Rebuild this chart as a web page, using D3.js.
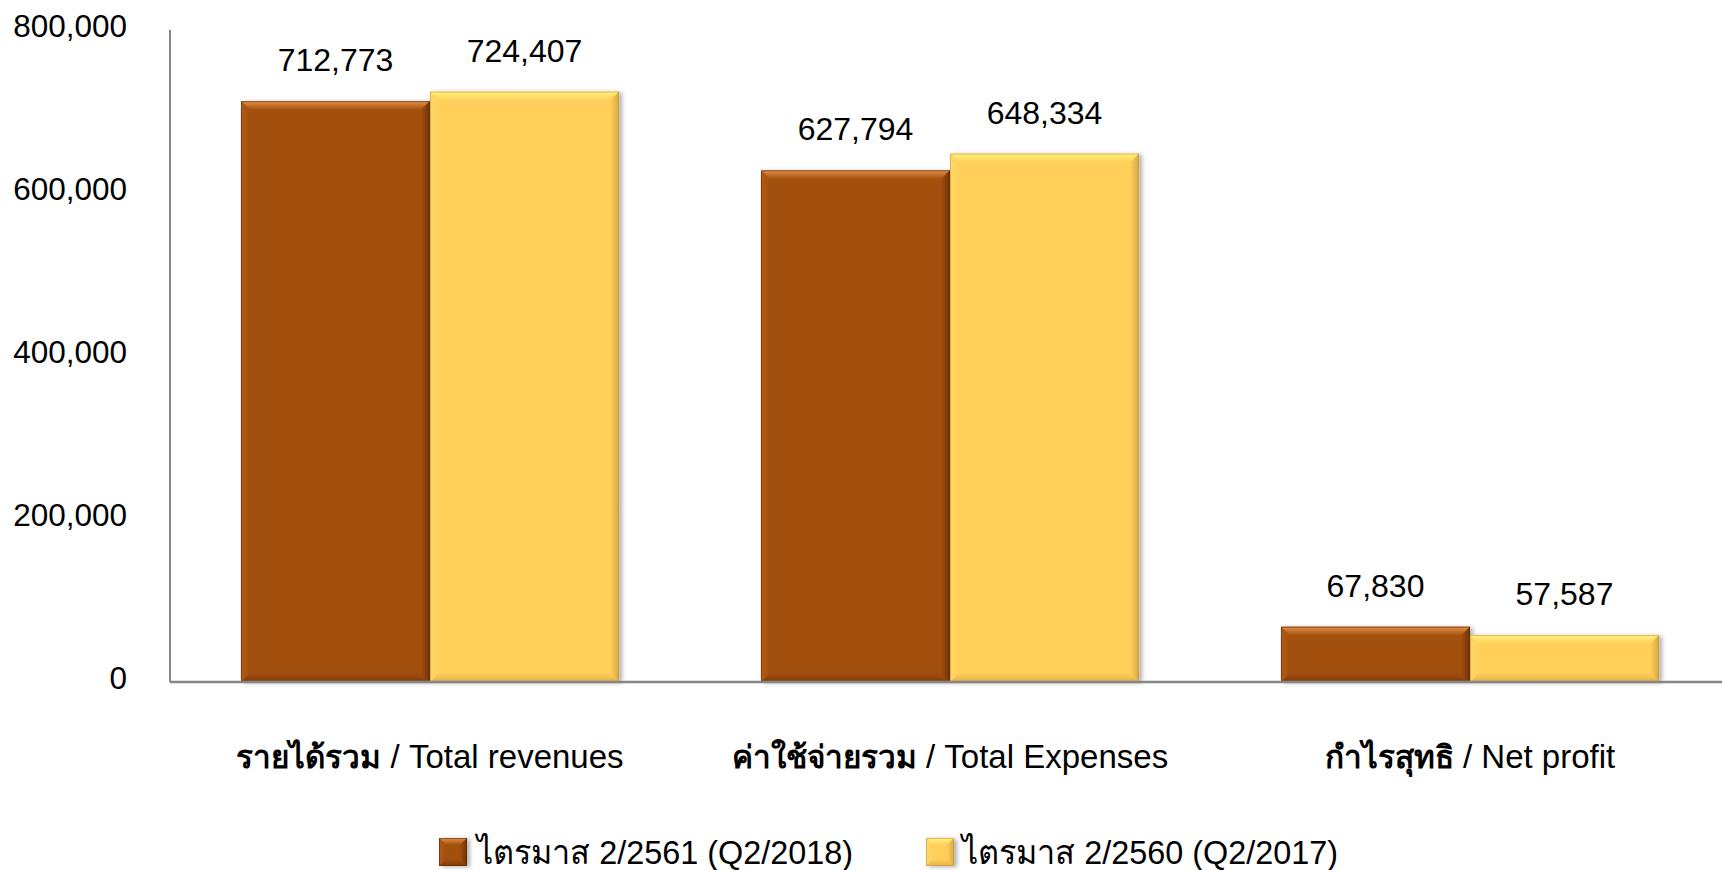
<!DOCTYPE html>
<html>
<head>
<meta charset="utf-8">
<script src="https://cdn.jsdelivr.net/npm/d3@7"></script>
<style>
  html, body { margin: 0; padding: 0; background: #ffffff; }
  svg { display: block; }
  text { font-family: "Liberation Sans", Arial, sans-serif; fill: #000; }
</style>
</head>
<body>
<svg id="chart" width="1722" height="870"></svg>
<script>
// ---- data ----
const categoriesThai = ["รายได้รวม", "ค่าใช้จ่ายรวม", "กำไรสุทธิ"];
const categoriesEng = ["Total revenues", "Total Expenses", "Net profit"];
const seriesNames = ["ไตรมาส 2/2561 (Q2/2018)", "ไตรมาส 2/2560 (Q2/2017)"];
const q2_2018 = [712773, 627794, 67830];
const q2_2017 = [724407, 648334, 57587];
const yTicks = [0, 200000, 400000, 600000, 800000];

const seriesValues = [q2_2018, q2_2017];
const palettes = [
  { base: "#A34F0B", top: "#E3904A", left: "#B25C16", right: "#6E3305", bottom: "#7F3C07", edge: "#5E2C06" },
  { base: "#FFCF5A", top: "#FFF27E", left: "#FFD96A", right: "#D9A843", bottom: "#E2B14A", edge: "#C9993C" }
];

const svg = d3.select("#chart");
const plotLeft = 170, plotRight = 1730, plotTop = 30, plotBottom = 682;

const x0 = d3.scaleBand().domain(d3.range(categoriesThai.length)).range([plotLeft, plotRight]).paddingInner(0.273).paddingOuter(0.1365);
const x1 = d3.scaleBand().domain([0, 1]).range([0, x0.bandwidth()]).padding(0);
const y = d3.scaleLinear().domain([0, 800000]).range([plotBottom, plotTop]);

// defs
const defs = svg.append("defs");
const f = defs.append("filter").attr("id", "shadow").attr("x", "-10%").attr("y", "-10%").attr("width", "130%").attr("height", "130%");
f.append("feDropShadow").attr("dx", 3).attr("dy", 1).attr("stdDeviation", 2).attr("flood-color", "#000").attr("flood-opacity", 0.3);

palettes.forEach((p, i) => {
  const gT = defs.append("linearGradient").attr("id", "gtop" + i).attr("x1", 0).attr("y1", 0).attr("x2", 0).attr("y2", 1);
  gT.append("stop").attr("offset", "0%").attr("stop-color", p.top);
  gT.append("stop").attr("offset", "100%").attr("stop-color", p.base);
  const gB = defs.append("linearGradient").attr("id", "gbot" + i).attr("x1", 0).attr("y1", 0).attr("x2", 0).attr("y2", 1);
  gB.append("stop").attr("offset", "0%").attr("stop-color", p.base);
  gB.append("stop").attr("offset", "100%").attr("stop-color", p.bottom);
  const gR = defs.append("linearGradient").attr("id", "gright" + i).attr("x1", 0).attr("y1", 0).attr("x2", 1).attr("y2", 0);
  gR.append("stop").attr("offset", "0%").attr("stop-color", p.base);
  gR.append("stop").attr("offset", "100%").attr("stop-color", p.right);
  const gL = defs.append("linearGradient").attr("id", "gleft" + i).attr("x1", 0).attr("y1", 0).attr("x2", 1).attr("y2", 0);
  gL.append("stop").attr("offset", "0%").attr("stop-color", p.left);
  gL.append("stop").attr("offset", "100%").attr("stop-color", p.base);
});

function bevelBar(g, bx, by, bw, bh, si, b) {
  const p = palettes[si];
  const grp = g.append("g").attr("filter", "url(#shadow)");
  grp.append("rect").attr("x", bx).attr("y", by).attr("width", bw).attr("height", bh).attr("fill", p.base);
  const bb = Math.min(b, bh / 2);
  const pts = (arr) => arr.map(a => a.join(",")).join(" ");
  grp.append("polygon").attr("points", pts([[bx, by], [bx + bw, by], [bx + bw - bb, by + bb], [bx + bb, by + bb]])).attr("fill", `url(#gtop${si})`);
  grp.append("polygon").attr("points", pts([[bx, by + bh], [bx + bw, by + bh], [bx + bw - bb, by + bh - bb], [bx + bb, by + bh - bb]])).attr("fill", `url(#gbot${si})`);
  grp.append("polygon").attr("points", pts([[bx, by], [bx + bb, by + bb], [bx + bb, by + bh - bb], [bx, by + bh]])).attr("fill", `url(#gleft${si})`);
  grp.append("polygon").attr("points", pts([[bx + bw, by], [bx + bw - bb, by + bb], [bx + bw - bb, by + bh - bb], [bx + bw, by + bh]])).attr("fill", `url(#gright${si})`);
  grp.append("rect").attr("x", bx + 0.5).attr("y", by + 0.5).attr("width", bw - 1).attr("height", bh - 1)
    .attr("fill", "none").attr("stroke", p.edge).attr("stroke-width", 1).attr("stroke-opacity", 0.6);
}

// y tick labels
svg.append("g").selectAll("text").data(yTicks).join("text")
  .attr("x", 127).attr("y", d => y(d) + 7)
  .attr("text-anchor", "end").attr("font-size", 31.5)
  .text(d => d3.format(",")(d));

// bars
const barsG = svg.append("g");
categoriesThai.forEach((c, ci) => {
  seriesValues.forEach((vals, si) => {
    const bx = x0(ci) + x1(si);
    const by = y(vals[ci]);
    bevelBar(barsG, bx, by, x1.bandwidth(), y(0) - by, si, 9);
  });
});

// axes lines
svg.append("line").attr("x1", plotLeft).attr("x2", plotLeft).attr("y1", plotTop).attr("y2", plotBottom)
  .attr("stroke", "#868686").attr("stroke-width", 2);
svg.append("line").attr("x1", plotLeft).attr("x2", plotRight).attr("y1", plotBottom).attr("y2", plotBottom)
  .attr("stroke", "#868686").attr("stroke-width", 2.5);

// value labels
const labG = svg.append("g");
categoriesThai.forEach((c, ci) => {
  seriesValues.forEach((vals, si) => {
    labG.append("text")
      .attr("x", x0(ci) + x1(si) + x1.bandwidth() / 2)
      .attr("y", y(vals[ci]) - 30)
      .attr("text-anchor", "middle").attr("font-size", 32)
      .text(d3.format(",")(vals[ci]));
  });
});

// category labels
const catG = svg.append("g");
categoriesThai.forEach((c, ci) => {
  const t = catG.append("text")
    .attr("x", x0(ci) + x0.bandwidth() / 2).attr("y", 768)
    .attr("text-anchor", "middle");
  t.append("tspan").attr("font-weight", "bold").attr("font-size", 31.5).text(c);
  t.append("tspan").attr("font-size", 33).text(" / " + categoriesEng[ci]);
});

// legend
const legendItems = [
  { mx: 439, tx: 477 },
  { mx: 926, tx: 962 }
];
const lg = svg.append("g");
seriesNames.forEach((n, i) => {
  bevelBar(lg, legendItems[i].mx, 838, 28, 28, i, 7);
  lg.append("text").attr("x", legendItems[i].tx).attr("y", 864)
    .attr("font-size", 34).attr("textLength", 376).attr("lengthAdjust", "spacingAndGlyphs")
    .text(n);
});
</script>
</body>
</html>
